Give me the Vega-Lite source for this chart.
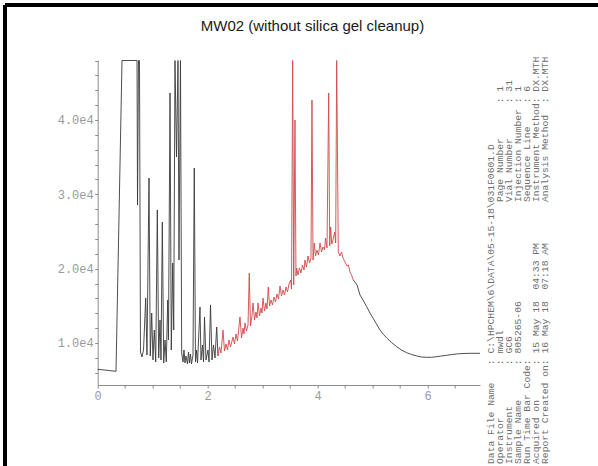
{
  "$schema": "https://vega.github.io/schema/vega-lite/v6.json",
  "width": 382.3,
  "height": 325,
  "autosize": {"type": "none"},
  "padding": {"left": 97.7, "top": 60, "right": 118, "bottom": 81},
  "background": "white",
  "config": {"view": {"stroke": null}, "font": "Liberation Sans"},
  "title": {
    "text": "MW02 (without silica gel cleanup)",
    "font": "Liberation Sans",
    "fontSize": 15,
    "fontWeight": "normal",
    "color": "#1a1a1a",
    "anchor": "middle",
    "frame": "group",
    "offset": -30,
    "dx": 23.6
  },
  "datasets": {
    "trace": [
      {"t": 0, "v": 6460, "seg": "1"},
      {"t": 0.333, "v": 6190, "seg": "1"},
      {"t": 0.442, "v": 48000, "seg": "1"},
      {"t": 0.715, "v": 48000, "seg": "1"},
      {"t": 0.724, "v": 28560, "seg": "1"},
      {"t": 0.742, "v": 48000, "seg": "1"},
      {"t": 0.76, "v": 48000, "seg": "1"},
      {"t": 0.778, "v": 8780, "seg": "1"},
      {"t": 0.805, "v": 8110, "seg": "1"},
      {"t": 0.833, "v": 9050, "seg": "1"},
      {"t": 0.873, "v": 16050, "seg": "1"},
      {"t": 0.896, "v": 8380, "seg": "1"},
      {"t": 0.933, "v": 32190, "seg": "1"},
      {"t": 0.956, "v": 8250, "seg": "1"},
      {"t": 0.982, "v": 14030, "seg": "1"},
      {"t": 1.005, "v": 7710, "seg": "1"},
      {"t": 1.029, "v": 11740, "seg": "1"},
      {"t": 1.055, "v": 7440, "seg": "1"},
      {"t": 1.084, "v": 27900, "seg": "1"},
      {"t": 1.109, "v": 7980, "seg": "1"},
      {"t": 1.133, "v": 13090, "seg": "1"},
      {"t": 1.151, "v": 7710, "seg": "1"},
      {"t": 1.175, "v": 26270, "seg": "1"},
      {"t": 1.2, "v": 7310, "seg": "1"},
      {"t": 1.224, "v": 10400, "seg": "1"},
      {"t": 1.247, "v": 7440, "seg": "1"},
      {"t": 1.273, "v": 15780, "seg": "1"},
      {"t": 1.287, "v": 10400, "seg": "1"},
      {"t": 1.315, "v": 43630, "seg": "1"},
      {"t": 1.338, "v": 9050, "seg": "1"},
      {"t": 1.364, "v": 20760, "seg": "1"},
      {"t": 1.382, "v": 11740, "seg": "1"},
      {"t": 1.405, "v": 48000, "seg": "1"},
      {"t": 1.433, "v": 35020, "seg": "1"},
      {"t": 1.46, "v": 48000, "seg": "1"},
      {"t": 1.478, "v": 21160, "seg": "1"},
      {"t": 1.505, "v": 48000, "seg": "1"},
      {"t": 1.527, "v": 8650, "seg": "1"},
      {"t": 1.551, "v": 7440, "seg": "1"},
      {"t": 1.569, "v": 9050, "seg": "1"},
      {"t": 1.587, "v": 7310, "seg": "1"},
      {"t": 1.605, "v": 8250, "seg": "1"},
      {"t": 1.633, "v": 7170, "seg": "1"},
      {"t": 1.651, "v": 8780, "seg": "1"},
      {"t": 1.669, "v": 7310, "seg": "1"},
      {"t": 1.687, "v": 8520, "seg": "1"},
      {"t": 1.705, "v": 7170, "seg": "1"},
      {"t": 1.733, "v": 8380, "seg": "1"},
      {"t": 1.756, "v": 33540, "seg": "1"},
      {"t": 1.778, "v": 7440, "seg": "1"},
      {"t": 1.796, "v": 9050, "seg": "1"},
      {"t": 1.815, "v": 7310, "seg": "1"},
      {"t": 1.86, "v": 14840, "seg": "1"},
      {"t": 1.878, "v": 7710, "seg": "1"},
      {"t": 1.905, "v": 9730, "seg": "1"},
      {"t": 1.924, "v": 7440, "seg": "1"},
      {"t": 1.942, "v": 13490, "seg": "1"},
      {"t": 1.969, "v": 7710, "seg": "1"},
      {"t": 2.005, "v": 9050, "seg": "1"},
      {"t": 2.024, "v": 7440, "seg": "1"},
      {"t": 2.051, "v": 15120, "seg": "1"},
      {"t": 2.078, "v": 7710, "seg": "1"},
      {"t": 2.105, "v": 9730, "seg": "1"},
      {"t": 2.133, "v": 7980, "seg": "1"},
      {"t": 2.164, "v": 12150, "seg": "1"},
      {"t": 2.187, "v": 8250, "seg": "1"},
      {"t": 2.187, "v": 8250, "seg": "2"},
      {"t": 2.215, "v": 9460, "seg": "2"},
      {"t": 2.242, "v": 8650, "seg": "2"},
      {"t": 2.278, "v": 11740, "seg": "2"},
      {"t": 2.305, "v": 8920, "seg": "2"},
      {"t": 2.333, "v": 9860, "seg": "2"},
      {"t": 2.36, "v": 9050, "seg": "2"},
      {"t": 2.387, "v": 10400, "seg": "2"},
      {"t": 2.415, "v": 9460, "seg": "2"},
      {"t": 2.46, "v": 10800, "seg": "2"},
      {"t": 2.487, "v": 9860, "seg": "2"},
      {"t": 2.515, "v": 11210, "seg": "2"},
      {"t": 2.542, "v": 10260, "seg": "2"},
      {"t": 2.587, "v": 13490, "seg": "2"},
      {"t": 2.615, "v": 10670, "seg": "2"},
      {"t": 2.642, "v": 12010, "seg": "2"},
      {"t": 2.66, "v": 11210, "seg": "2"},
      {"t": 2.678, "v": 12690, "seg": "2"},
      {"t": 2.705, "v": 11610, "seg": "2"},
      {"t": 2.733, "v": 12420, "seg": "2"},
      {"t": 2.756, "v": 19410, "seg": "2"},
      {"t": 2.778, "v": 12280, "seg": "2"},
      {"t": 2.805, "v": 13630, "seg": "2"},
      {"t": 2.824, "v": 15380, "seg": "2"},
      {"t": 2.851, "v": 13090, "seg": "2"},
      {"t": 2.878, "v": 14170, "seg": "2"},
      {"t": 2.896, "v": 13360, "seg": "2"},
      {"t": 2.915, "v": 15380, "seg": "2"},
      {"t": 2.942, "v": 13630, "seg": "2"},
      {"t": 2.969, "v": 14700, "seg": "2"},
      {"t": 2.987, "v": 14030, "seg": "2"},
      {"t": 3.005, "v": 16050, "seg": "2"},
      {"t": 3.033, "v": 14300, "seg": "2"},
      {"t": 3.06, "v": 15380, "seg": "2"},
      {"t": 3.078, "v": 14570, "seg": "2"},
      {"t": 3.102, "v": 17530, "seg": "2"},
      {"t": 3.124, "v": 14970, "seg": "2"},
      {"t": 3.151, "v": 15780, "seg": "2"},
      {"t": 3.178, "v": 15110, "seg": "2"},
      {"t": 3.205, "v": 16180, "seg": "2"},
      {"t": 3.233, "v": 15510, "seg": "2"},
      {"t": 3.26, "v": 16590, "seg": "2"},
      {"t": 3.287, "v": 15910, "seg": "2"},
      {"t": 3.315, "v": 17660, "seg": "2"},
      {"t": 3.342, "v": 16320, "seg": "2"},
      {"t": 3.369, "v": 17130, "seg": "2"},
      {"t": 3.396, "v": 16450, "seg": "2"},
      {"t": 3.424, "v": 17530, "seg": "2"},
      {"t": 3.451, "v": 16860, "seg": "2"},
      {"t": 3.478, "v": 17930, "seg": "2"},
      {"t": 3.509, "v": 18470, "seg": "2"},
      {"t": 3.524, "v": 17260, "seg": "2"},
      {"t": 3.545, "v": 48000, "seg": "2"},
      {"t": 3.564, "v": 17800, "seg": "2"},
      {"t": 3.587, "v": 40000, "seg": "2"},
      {"t": 3.605, "v": 19010, "seg": "2"},
      {"t": 3.618, "v": 20090, "seg": "2"},
      {"t": 3.642, "v": 19140, "seg": "2"},
      {"t": 3.669, "v": 20090, "seg": "2"},
      {"t": 3.696, "v": 19410, "seg": "2"},
      {"t": 3.724, "v": 20490, "seg": "2"},
      {"t": 3.751, "v": 19820, "seg": "2"},
      {"t": 3.769, "v": 21160, "seg": "2"},
      {"t": 3.796, "v": 20220, "seg": "2"},
      {"t": 3.824, "v": 21700, "seg": "2"},
      {"t": 3.851, "v": 20760, "seg": "2"},
      {"t": 3.878, "v": 21430, "seg": "2"},
      {"t": 3.896, "v": 42690, "seg": "2"},
      {"t": 3.915, "v": 21160, "seg": "2"},
      {"t": 3.938, "v": 23450, "seg": "2"},
      {"t": 3.96, "v": 21700, "seg": "2"},
      {"t": 3.987, "v": 22510, "seg": "2"},
      {"t": 4.015, "v": 21830, "seg": "2"},
      {"t": 4.042, "v": 23450, "seg": "2"},
      {"t": 4.069, "v": 22240, "seg": "2"},
      {"t": 4.096, "v": 22910, "seg": "2"},
      {"t": 4.124, "v": 22510, "seg": "2"},
      {"t": 4.142, "v": 24120, "seg": "2"},
      {"t": 4.169, "v": 22780, "seg": "2"},
      {"t": 4.2, "v": 43630, "seg": "2"},
      {"t": 4.218, "v": 23050, "seg": "2"},
      {"t": 4.236, "v": 25600, "seg": "2"},
      {"t": 4.255, "v": 23310, "seg": "2"},
      {"t": 4.278, "v": 23850, "seg": "2"},
      {"t": 4.309, "v": 24930, "seg": "2"},
      {"t": 4.327, "v": 23450, "seg": "2"},
      {"t": 4.345, "v": 48000, "seg": "2"},
      {"t": 4.375, "v": 22240, "seg": "2"},
      {"t": 4.405, "v": 21700, "seg": "2"},
      {"t": 4.433, "v": 22240, "seg": "2"},
      {"t": 4.46, "v": 21430, "seg": "2"},
      {"t": 4.496, "v": 20890, "seg": "2"},
      {"t": 4.533, "v": 20350, "seg": "2"},
      {"t": 4.56, "v": 20490, "seg": "2"},
      {"t": 4.587, "v": 19550, "seg": "2"},
      {"t": 4.615, "v": 19140, "seg": "2"},
      {"t": 4.647, "v": 18470, "seg": "2"},
      {"t": 4.647, "v": 18470, "seg": "3"},
      {"t": 4.678, "v": 18200, "seg": "3"},
      {"t": 4.715, "v": 17800, "seg": "3"},
      {"t": 4.742, "v": 17130, "seg": "3"},
      {"t": 4.769, "v": 16450, "seg": "3"},
      {"t": 4.824, "v": 15780, "seg": "3"},
      {"t": 4.891, "v": 14880, "seg": "3"},
      {"t": 4.951, "v": 14030, "seg": "3"},
      {"t": 5.005, "v": 13360, "seg": "3"},
      {"t": 5.069, "v": 12550, "seg": "3"},
      {"t": 5.133, "v": 11740, "seg": "3"},
      {"t": 5.196, "v": 11140, "seg": "3"},
      {"t": 5.255, "v": 10670, "seg": "3"},
      {"t": 5.342, "v": 10060, "seg": "3"},
      {"t": 5.436, "v": 9500, "seg": "3"},
      {"t": 5.524, "v": 9050, "seg": "3"},
      {"t": 5.618, "v": 8690, "seg": "3"},
      {"t": 5.705, "v": 8450, "seg": "3"},
      {"t": 5.8, "v": 8250, "seg": "3"},
      {"t": 5.887, "v": 8110, "seg": "3"},
      {"t": 5.982, "v": 8070, "seg": "3"},
      {"t": 6.069, "v": 8070, "seg": "3"},
      {"t": 6.164, "v": 8150, "seg": "3"},
      {"t": 6.251, "v": 8250, "seg": "3"},
      {"t": 6.345, "v": 8340, "seg": "3"},
      {"t": 6.433, "v": 8440, "seg": "3"},
      {"t": 6.527, "v": 8520, "seg": "3"},
      {"t": 6.642, "v": 8580, "seg": "3"},
      {"t": 6.769, "v": 8610, "seg": "3"},
      {"t": 6.878, "v": 8610, "seg": "3"},
      {"t": 6.951, "v": 8610, "seg": "3"}
    ],
    "header": [
      {"line": 1, "col": 0, "text": "Data File Name\u00a0\u00a0\u00a0: C:\\HPCHEM\\6\\DATA\\05-15-18\\031F0601.D"},
      {"line": 2, "col": 0, "text": "Operator\u00a0\u00a0\u00a0\u00a0\u00a0\u00a0\u00a0\u00a0\u00a0: mwdl"},
      {"line": 3, "col": 0, "text": "Instrument\u00a0\u00a0\u00a0\u00a0\u00a0\u00a0\u00a0: GC6"},
      {"line": 4, "col": 0, "text": "Sample Name\u00a0\u00a0\u00a0\u00a0\u00a0\u00a0: 805265-06"},
      {"line": 5, "col": 0, "text": "Run Time Bar Code:"},
      {"line": 6, "col": 0, "text": "Acquired on\u00a0\u00a0\u00a0\u00a0\u00a0\u00a0: 15 May 18\u00a0\u00a004:33 PM"},
      {"line": 7, "col": 0, "text": "Report Created on: 16 May 18\u00a0\u00a007:18 AM"},
      {"line": 2, "col": 45, "text": "Page Number\u00a0\u00a0\u00a0\u00a0\u00a0\u00a0: 1"},
      {"line": 3, "col": 45, "text": "Vial Number\u00a0\u00a0\u00a0\u00a0\u00a0\u00a0: 31"},
      {"line": 4, "col": 45, "text": "Injection Number\u00a0: 1"},
      {"line": 5, "col": 45, "text": "Sequence Line\u00a0\u00a0\u00a0\u00a0: 6"},
      {"line": 6, "col": 45, "text": "Instrument Method: DX.MTH"},
      {"line": 7, "col": 45, "text": "Analysis Method\u00a0\u00a0: DX.MTH"}
    ]
  },
  "layer": [
    {
      "data": {"name": "trace"},
      "mark": {"type": "line", "strokeWidth": 0.9, "interpolate": "linear"},
      "encoding": {
        "x": {
          "field": "t", "type": "quantitative",
          "scale": {"domain": [0, 6.951], "nice": false, "zero": false},
          "axis": {
            "orient": "bottom", "domain": true, "domainColor": "#8c8c8c", "grid": false, "title": null,
            "values": [0, 0.5, 1, 1.5, 2, 2.5, 3, 3.5, 4, 4.5, 5, 5.5, 6, 6.5],
            "labelExpr": "datum.value % 2 === 0 ? format(datum.value, 'd') : ''",
            "tickSize": 3, "tickColor": "#8c8c8c", "labelPadding": 2,
            "labelFont": "Liberation Mono", "labelFontSize": 12, "labelColor": "#9a9a9a",
            "labelFlush": false, "labelOverlap": false
          }
        },
        "y": {
          "field": "v", "type": "quantitative",
          "scale": {"domain": [4345, 48069], "nice": false, "zero": false},
          "axis": {
            "orient": "left", "domain": true, "domainColor": "#8c8c8c", "grid": false, "title": null,
            "values": [6000, 8000, 10000, 12000, 14000, 16000, 18000, 20000, 22000, 24000, 26000, 28000, 30000, 32000, 34000, 36000, 38000, 40000, 42000, 44000, 46000, 48000],
            "labelExpr": "datum.value % 10000 === 0 ? format(datum.value / 10000, '.1f') + 'e4' : ''",
            "tickSize": 3, "tickColor": "#8c8c8c", "labelPadding": 1.5,
            "labelFont": "Liberation Mono", "labelFontSize": 12, "labelColor": "#9a9a9a",
            "labelFlush": false, "labelOverlap": false
          }
        },
        "color": {
          "field": "seg", "type": "nominal",
          "scale": {"domain": ["1", "2", "3"], "range": ["#3a3a3a", "#cf4a4a", "#3a3a3a"]},
          "legend": null
        }
      }
    },
    {
      "data": {"name": "trace"},
      "mark": {"type": "rule", "color": "black", "strokeWidth": 2.5},
      "encoding": {
        "x": {"datum": -1.685, "type": "quantitative", "scale": {"domain": [0, 6.951], "nice": false, "zero": false}, "axis": null},
        "y": {"datum": -6550, "type": "quantitative", "scale": {"domain": [4345, 48069], "nice": false, "zero": false}, "axis": null},
        "y2": {"datum": 55470}
      }
    },
    {
      "data": {"name": "trace"},
      "mark": {"type": "rule", "color": "black", "strokeWidth": 2.5},
      "encoding": {
        "x": {"datum": -1.685, "type": "quantitative", "scale": {"domain": [0, 6.951], "nice": false, "zero": false}, "axis": null},
        "x2": {"datum": 9.097},
        "y": {"datum": 55470, "type": "quantitative", "scale": {"domain": [4345, 48069], "nice": false, "zero": false}, "axis": null}
      }
    },
    {
      "data": {"name": "header"},
      "mark": {"type": "text", "angle": 270, "align": "left", "baseline": "middle", "font": "Liberation Mono", "fontSize": 9.7, "color": "#6e6e6e"},
      "encoding": {
        "x": {"field": "line", "type": "quantitative", "scale": {"domain": [1, 7], "range": [393.3, 447.3]}, "axis": null},
        "y": {"field": "col", "type": "quantitative", "scale": {"domain": [0, 80], "range": [404, -61.6]}, "axis": null},
        "text": {"field": "text"}
      }
    }
  ],
  "resolve": {"scale": {"x": "independent", "y": "independent"}}
}
